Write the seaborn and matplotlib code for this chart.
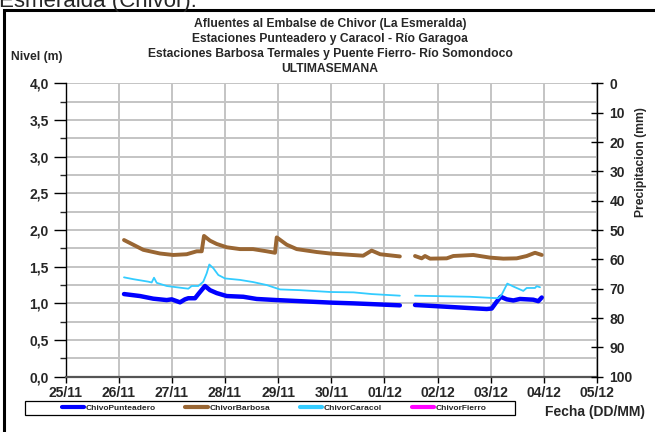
import matplotlib
matplotlib.use("Agg")
import matplotlib.pyplot as plt
import matplotlib.dates as mdates
from matplotlib.lines import Line2D
from matplotlib.patches import Rectangle
from matplotlib.ticker import FuncFormatter, MultipleLocator
import numpy as np
import pandas as pd
import seaborn as sns

# --- Niveles (m) por estacion; el NaN marca el hueco de registro del 01/12 ---
t_punteadero = ["2013-11-26 02:25", "2013-11-26 09:38", "2013-11-26 15:38", "2013-11-26 21:42",
                "2013-11-26 23:57", "2013-11-27 03:42", "2013-11-27 05:57", "2013-11-27 07:27",
                "2013-11-27 10:29", "2013-11-27 11:58", "2013-11-27 14:59", "2013-11-27 17:15",
                "2013-11-27 20:17", "2013-11-28 00:47", "2013-11-28 08:17", "2013-11-28 14:20",
                "2013-11-28 23:22", "2013-11-29 09:53", "2013-11-30 00:00", "2013-11-30 10:05",
                "2013-11-30 18:14", "2013-12-01 06:58", "2013-12-01 10:00",
                "2013-12-01 13:49", "2013-12-02 08:39", "2013-12-02 22:12", "2013-12-03 00:27",
                "2013-12-03 02:42", "2013-12-03 04:31", "2013-12-03 07:13", "2013-12-03 10:12",
                "2013-12-03 13:13", "2013-12-03 19:13", "2013-12-03 21:30", "2013-12-03 23:02"]
v_punteadero = [1.127, 1.10, 1.064, 1.045, 1.055, 1.014, 1.055, 1.07,
                1.07, 1.127, 1.237, 1.18, 1.14, 1.10, 1.09, 1.06,
                1.045, 1.03, 1.01, 1.00, 0.99, 0.973, np.nan,
                0.978, 0.946, 0.923, 0.93, 1.023, 1.09, 1.055, 1.04,
                1.06, 1.05, 1.03, 1.08]

t_barbosa = ["2013-11-26 02:25", "2013-11-26 11:08", "2013-11-26 18:40", "2013-11-27 00:40",
             "2013-11-27 06:43", "2013-11-27 11:14", "2013-11-27 13:30", "2013-11-27 14:32",
             "2013-11-27 17:15", "2013-11-27 20:17", "2013-11-28 00:48", "2013-11-28 06:48",
             "2013-11-28 12:40", "2013-11-28 18:52", "2013-11-28 22:36", "2013-11-28 23:22",
             "2013-11-29 03:53", "2013-11-29 08:24", "2013-11-29 17:31", "2013-11-29 23:31",
             "2013-11-30 14:24", "2013-11-30 18:14", "2013-11-30 22:05", "2013-12-01 06:58",
             "2013-12-01 10:00",
             "2013-12-01 13:49", "2013-12-01 16:50", "2013-12-01 18:20", "2013-12-01 20:36",
             "2013-12-02 04:08", "2013-12-02 07:06", "2013-12-02 16:08", "2013-12-02 23:41",
             "2013-12-03 05:41", "2013-12-03 11:44", "2013-12-03 16:15", "2013-12-03 20:00",
             "2013-12-03 23:02"]
v_barbosa = [1.864, 1.73, 1.68, 1.66, 1.67, 1.71, 1.71, 1.92,
             1.855, 1.81, 1.765, 1.74, 1.74, 1.71, 1.69, 1.90,
             1.80, 1.74, 1.70, 1.68, 1.65, 1.72, 1.67, 1.64,
             np.nan,
             1.646, 1.614, 1.646, 1.61, 1.614, 1.646, 1.66, 1.624,
             1.61, 1.614, 1.646, 1.69, 1.66]

t_caracol = ["2013-11-26 02:25", "2013-11-26 06:37", "2013-11-26 13:23", "2013-11-26 14:55",
             "2013-11-26 15:58", "2013-11-26 17:11", "2013-11-26 21:42", "2013-11-27 03:42",
             "2013-11-27 07:27", "2013-11-27 08:59", "2013-11-27 11:58", "2013-11-27 14:13",
             "2013-11-27 15:45", "2013-11-27 16:56", "2013-11-27 18:44", "2013-11-27 21:00",
             "2013-11-28 00:01", "2013-11-28 06:48", "2013-11-28 12:48", "2013-11-28 18:51",
             "2013-11-29 00:51", "2013-11-29 09:53", "2013-11-29 23:31", "2013-11-30 10:05",
             "2013-11-30 18:14", "2013-12-01 06:58", "2013-12-01 10:00",
             "2013-12-01 13:49", "2013-12-02 14:40", "2013-12-03 03:26", "2013-12-03 04:58",
             "2013-12-03 07:29", "2013-12-03 10:12", "2013-12-03 14:43", "2013-12-03 16:15",
             "2013-12-03 20:00", "2013-12-03 20:46", "2013-12-03 22:15"]
v_caracol = [1.355, 1.33, 1.296, 1.285, 1.35, 1.28, 1.237, 1.214,
             1.20, 1.237, 1.237, 1.296, 1.41, 1.53, 1.48, 1.387,
             1.34, 1.32, 1.29, 1.25, 1.19, 1.18, 1.155, 1.15,
             1.127, 1.105, np.nan,
             1.105, 1.09, 1.07, 1.12, 1.27, 1.23, 1.17, 1.21,
             1.21, 1.235, 1.22]

series = ["ChivoPunteadero", "ChivorBarbosa", "ChivorCaracol", "ChivorFierro"]
colores = ["#0000FF", "#996633", "#33CCFF", "#FF00FF"]
grosores = [3.2, 2.8, 1.3, 2.0]
dias = pd.date_range("2013-11-25", "2013-12-05", freq="D")
nivel_ticks = [0.0, 0.5, 1.0, 1.5, 2.0, 2.5, 3.0, 3.5, 4.0]
precip_ticks = [0, 10, 20, 30, 40, 50, 60, 70, 80, 90, 100]
titulo = ["Afluentes al Embalse de Chivor (La Esmeralda)",
          "Estaciones Punteadero y Caracol - Río Garagoa",
          "Estaciones Barbosa Termales y Puente Fierro- Río Somondoco",
          "ULTIMASEMANA"]


def tabla(nombre, tiempos, valores):
    df = pd.DataFrame({"fecha": pd.to_datetime(tiempos), "nivel": valores})
    df["tramo"] = df["nivel"].isna().cumsum()
    df["serie"] = nombre
    return df.dropna()


datos = {
    "ChivoPunteadero": tabla("ChivoPunteadero", t_punteadero, v_punteadero),
    "ChivorBarbosa": tabla("ChivorBarbosa", t_barbosa, v_barbosa),
    "ChivorCaracol": tabla("ChivorCaracol", t_caracol, v_caracol),
}

sns.set_theme(style="white")
plt.rcParams["font.family"] = ["Liberation Sans", "DejaVu Sans"]
plt.rcParams["font.weight"] = "bold"

fig = plt.figure(figsize=(6.55, 4.32), dpi=100)
ax = fig.add_axes([0.1, 0.128, 0.8115, 0.679])

for nombre, color, lw in zip(series, colores, grosores):
    if nombre not in datos:
        continue
    sns.lineplot(data=datos[nombre], x="fecha", y="nivel", units="tramo", estimator=None,
                 color=color, linewidth=lw, ax=ax, legend=False, sort=False)

ax.set_xlim(dias[0], dias[-1])
ax.set_ylim(0, 4)
ax.set_xticks(dias)
ax.xaxis.set_major_formatter(mdates.DateFormatter("%d/%m"))
ax.set_yticks(nivel_ticks)
ax.yaxis.set_minor_locator(MultipleLocator(0.25))
ax.yaxis.set_major_formatter(FuncFormatter(lambda v, p: f"{v:.1f}".replace(".", ",")))
ax.set_xlabel("")
ax.set_ylabel("")
ax.grid(True, which="both", color="#C4C4C4", linewidth=1.4)
ax.set_axisbelow(True)
for lado in ["top", "right"]:
    ax.spines[lado].set_visible(False)
ax.spines["left"].set_color("black")
ax.spines["left"].set_linewidth(1.0)
ax.spines["bottom"].set_color("#555555")
ax.spines["bottom"].set_linewidth(1.6)
ax.tick_params(axis="y", which="major", direction="out", length=9, width=1, color="black",
               labelsize=10, pad=3, left=True)
ax.tick_params(axis="x", which="major", direction="out", length=4, width=1, color="black",
               labelsize=10, pad=3, bottom=True)
ax.tick_params(axis="y", which="minor", left=False)
for lbl in ax.get_xticklabels() + ax.get_yticklabels():
    lbl.set_fontweight("bold")

ax2 = ax.twinx()
ax2.set_ylim(100, 0)
ax2.set_yticks(precip_ticks)
ax2.grid(False)
for lado in ["top", "left", "bottom"]:
    ax2.spines[lado].set_visible(False)
ax2.spines["right"].set_color("black")
ax2.spines["right"].set_linewidth(1.0)
ax2.tick_params(axis="y", direction="inout", length=8, width=1, color="black", labelsize=10,
                pad=5, right=True)
for lbl in ax2.get_yticklabels():
    lbl.set_fontweight("bold")

for i, linea in enumerate(titulo):
    fig.text(330 / 655, 1 - (24 + 15 * i) / 432, linea, ha="center", va="center",
             fontsize=8.7, fontweight="bold")
fig.text(37 / 655, 1 - 57 / 432, "Nivel (m)", ha="center", va="center", fontsize=8.7,
         fontweight="bold")
fig.text(641 / 655, 1 - 162 / 432, "Precipitacion (mm)", ha="center", va="center",
         rotation=90, fontsize=8.7, fontweight="bold")
fig.text(595 / 655, 1 - 412 / 432, "Fecha (DD/MM)", ha="center", va="center", fontsize=10,
         fontweight="bold")
fig.text(-1 / 655, 1 - 7 / 432, "Esmeralda (Chivor).", ha="left", va="baseline",
         fontsize=16, fontweight="normal")

# marco del grafico
fig.add_artist(Rectangle((4 / 655, -0.05), 1.0, 1 - 10 / 432 + 0.05, transform=fig.transFigure,
                         fill=False, edgecolor="black", linewidth=2.2))

# recuadro de la leyenda
fig.add_artist(Rectangle((25 / 655, 1 - 415 / 432), 490 / 655, 14 / 432,
                         transform=fig.transFigure, fill=False, edgecolor="black",
                         linewidth=0.9))
manejadores = [Line2D([0], [0], color=c, linewidth=3) for c in colores]
leg = fig.legend(manejadores, series, loc="center", bbox_to_anchor=(274 / 655, 1 - 408 / 432),
                 ncol=4, fontsize=6, frameon=False, handlelength=2.7, handletextpad=0.15,
                 columnspacing=3.6, borderpad=0.2)

fig.savefig("out.png", dpi=100)
